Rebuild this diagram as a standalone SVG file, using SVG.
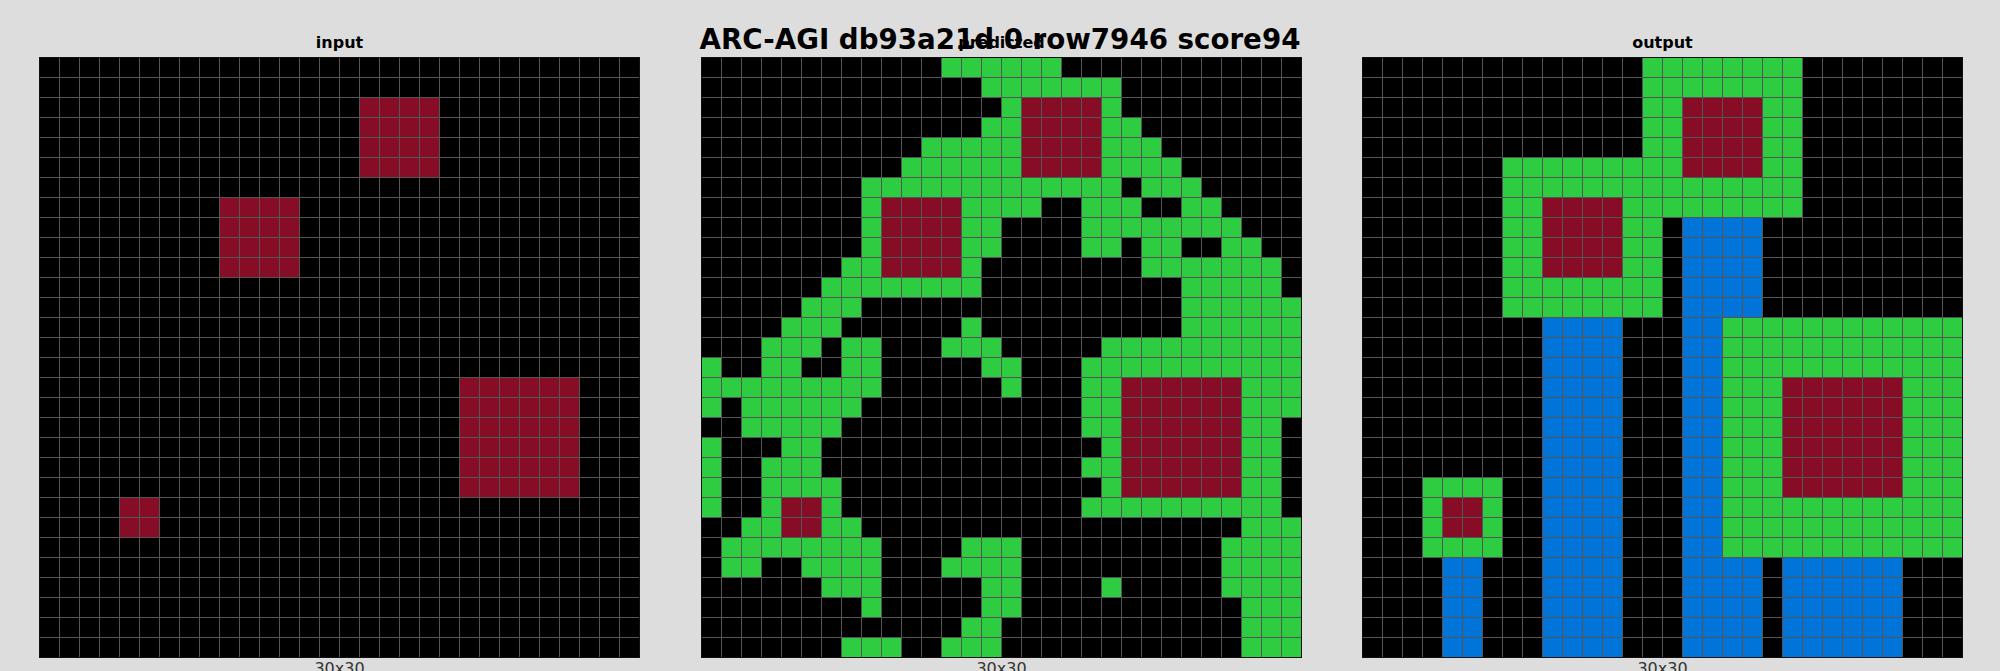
<svg xmlns="http://www.w3.org/2000/svg" xmlns:xlink="http://www.w3.org/1999/xlink" width="2000" height="671" viewBox="0 0 2000 671">
<style>
.bg{fill:#dddddd}
.k{fill:#000000}
.g{fill:#2ECC40}
.m{fill:#870C25}
.b{fill:#0074D9}
.gl{fill:none;stroke:#555555;stroke-width:1}
.bd{fill:none;stroke:#111111;stroke-width:1}
.pt{font-family:"DejaVu Sans","Liberation Sans",sans-serif;font-weight:bold;font-size:16px;fill:#000;text-anchor:middle}
.mt{font-family:"DejaVu Sans","Liberation Sans",sans-serif;font-weight:bold;font-size:27.7px;fill:#000;text-anchor:middle}
.sz{font-family:"DejaVu Sans","Liberation Sans",sans-serif;font-size:16px;fill:#333;text-anchor:middle}
</style>
<defs>
<path id="gridlines" class="gl" d="M0 0H600M0 20H600M0 40H600M0 60H600M0 80H600M0 100H600M0 120H600M0 140H600M0 160H600M0 180H600M0 200H600M0 220H600M0 240H600M0 260H600M0 280H600M0 300H600M0 320H600M0 340H600M0 360H600M0 380H600M0 400H600M0 420H600M0 440H600M0 460H600M0 480H600M0 500H600M0 520H600M0 540H600M0 560H600M0 580H600M0 600H600M0 0V600M20 0V600M40 0V600M60 0V600M80 0V600M100 0V600M120 0V600M140 0V600M160 0V600M180 0V600M200 0V600M220 0V600M240 0V600M260 0V600M280 0V600M300 0V600M320 0V600M340 0V600M360 0V600M380 0V600M400 0V600M420 0V600M440 0V600M460 0V600M480 0V600M500 0V600M520 0V600M540 0V600M560 0V600M580 0V600M600 0V600"/>
</defs>
<rect class="bg" x="0" y="0" width="2000" height="671"/>

<g id="input-grid" transform="translate(39.5,57.5)">
<rect class="k" x="0" y="0" width="600" height="600"/>
<rect class="m" x="320" y="40" width="80" height="80"/>
<rect class="m" x="180" y="140" width="80" height="80"/>
<rect class="m" x="420" y="320" width="120" height="120"/>
<rect class="m" x="80" y="440" width="40" height="40"/>
<use xlink:href="#gridlines" href="#gridlines"/>
<rect class="bd" x="0" y="0" width="600" height="600"/>
</g>

<g id="predicted-grid" transform="translate(701.5,57.5)">
<rect class="k" x="0" y="0" width="600" height="600"/>
<rect class="g" x="240" y="0" width="120" height="20"/>
<rect class="g" x="280" y="20" width="140" height="20"/>
<rect class="g" x="300" y="40" width="20" height="20"/>
<rect class="g" x="400" y="40" width="20" height="20"/>
<rect class="g" x="280" y="60" width="40" height="20"/>
<rect class="g" x="400" y="60" width="40" height="20"/>
<rect class="g" x="220" y="80" width="100" height="20"/>
<rect class="g" x="400" y="80" width="60" height="20"/>
<rect class="g" x="200" y="100" width="120" height="20"/>
<rect class="g" x="400" y="100" width="80" height="20"/>
<rect class="g" x="160" y="120" width="260" height="20"/>
<rect class="g" x="440" y="120" width="60" height="20"/>
<rect class="g" x="160" y="140" width="20" height="20"/>
<rect class="g" x="260" y="140" width="80" height="20"/>
<rect class="g" x="380" y="140" width="60" height="20"/>
<rect class="g" x="480" y="140" width="40" height="20"/>
<rect class="g" x="160" y="160" width="20" height="20"/>
<rect class="g" x="260" y="160" width="40" height="20"/>
<rect class="g" x="380" y="160" width="160" height="20"/>
<rect class="g" x="160" y="180" width="20" height="20"/>
<rect class="g" x="260" y="180" width="40" height="20"/>
<rect class="g" x="380" y="180" width="40" height="20"/>
<rect class="g" x="440" y="180" width="40" height="20"/>
<rect class="g" x="520" y="180" width="40" height="20"/>
<rect class="g" x="140" y="200" width="40" height="20"/>
<rect class="g" x="260" y="200" width="20" height="20"/>
<rect class="g" x="440" y="200" width="140" height="20"/>
<rect class="g" x="120" y="220" width="160" height="20"/>
<rect class="g" x="480" y="220" width="100" height="20"/>
<rect class="g" x="100" y="240" width="60" height="20"/>
<rect class="g" x="480" y="240" width="120" height="20"/>
<rect class="g" x="80" y="260" width="60" height="20"/>
<rect class="g" x="260" y="260" width="20" height="20"/>
<rect class="g" x="480" y="260" width="120" height="20"/>
<rect class="g" x="60" y="280" width="60" height="20"/>
<rect class="g" x="140" y="280" width="40" height="20"/>
<rect class="g" x="240" y="280" width="60" height="20"/>
<rect class="g" x="400" y="280" width="200" height="20"/>
<rect class="g" x="0" y="300" width="20" height="20"/>
<rect class="g" x="60" y="300" width="40" height="20"/>
<rect class="g" x="140" y="300" width="40" height="20"/>
<rect class="g" x="280" y="300" width="40" height="20"/>
<rect class="g" x="380" y="300" width="220" height="20"/>
<rect class="g" x="0" y="320" width="180" height="20"/>
<rect class="g" x="300" y="320" width="20" height="20"/>
<rect class="g" x="380" y="320" width="40" height="20"/>
<rect class="g" x="540" y="320" width="60" height="20"/>
<rect class="g" x="0" y="340" width="20" height="20"/>
<rect class="g" x="40" y="340" width="120" height="20"/>
<rect class="g" x="380" y="340" width="40" height="20"/>
<rect class="g" x="540" y="340" width="60" height="20"/>
<rect class="g" x="40" y="360" width="100" height="20"/>
<rect class="g" x="380" y="360" width="40" height="20"/>
<rect class="g" x="540" y="360" width="40" height="20"/>
<rect class="g" x="0" y="380" width="20" height="20"/>
<rect class="g" x="80" y="380" width="40" height="20"/>
<rect class="g" x="400" y="380" width="20" height="20"/>
<rect class="g" x="540" y="380" width="40" height="20"/>
<rect class="g" x="0" y="400" width="20" height="20"/>
<rect class="g" x="60" y="400" width="60" height="20"/>
<rect class="g" x="380" y="400" width="40" height="20"/>
<rect class="g" x="540" y="400" width="40" height="20"/>
<rect class="g" x="0" y="420" width="20" height="20"/>
<rect class="g" x="60" y="420" width="80" height="20"/>
<rect class="g" x="400" y="420" width="20" height="20"/>
<rect class="g" x="540" y="420" width="40" height="20"/>
<rect class="g" x="0" y="440" width="20" height="20"/>
<rect class="g" x="60" y="440" width="20" height="20"/>
<rect class="g" x="120" y="440" width="20" height="20"/>
<rect class="g" x="380" y="440" width="200" height="20"/>
<rect class="g" x="40" y="460" width="40" height="20"/>
<rect class="g" x="120" y="460" width="40" height="20"/>
<rect class="g" x="540" y="460" width="60" height="20"/>
<rect class="g" x="20" y="480" width="160" height="20"/>
<rect class="g" x="260" y="480" width="60" height="20"/>
<rect class="g" x="520" y="480" width="80" height="20"/>
<rect class="g" x="20" y="500" width="40" height="20"/>
<rect class="g" x="100" y="500" width="80" height="20"/>
<rect class="g" x="240" y="500" width="80" height="20"/>
<rect class="g" x="520" y="500" width="80" height="20"/>
<rect class="g" x="120" y="520" width="60" height="20"/>
<rect class="g" x="280" y="520" width="40" height="20"/>
<rect class="g" x="400" y="520" width="20" height="20"/>
<rect class="g" x="520" y="520" width="80" height="20"/>
<rect class="g" x="160" y="540" width="20" height="20"/>
<rect class="g" x="280" y="540" width="40" height="20"/>
<rect class="g" x="540" y="540" width="60" height="20"/>
<rect class="g" x="260" y="560" width="40" height="20"/>
<rect class="g" x="540" y="560" width="60" height="20"/>
<rect class="g" x="140" y="580" width="60" height="20"/>
<rect class="g" x="240" y="580" width="60" height="20"/>
<rect class="g" x="540" y="580" width="60" height="20"/>
<rect class="m" x="320" y="40" width="80" height="80"/>
<rect class="m" x="180" y="140" width="80" height="80"/>
<rect class="m" x="420" y="320" width="120" height="120"/>
<rect class="m" x="80" y="440" width="40" height="40"/>
<use xlink:href="#gridlines" href="#gridlines"/>
<rect class="bd" x="0" y="0" width="600" height="600"/>
</g>

<g id="output-grid" transform="translate(1362.5,57.5)">
<rect class="k" x="0" y="0" width="600" height="600"/>
<rect class="g" x="280" y="0" width="160" height="160"/>
<rect class="g" x="140" y="100" width="160" height="160"/>
<rect class="m" x="320" y="40" width="80" height="80"/>
<rect class="m" x="180" y="140" width="80" height="80"/>
<rect class="b" x="320" y="160" width="80" height="440"/>
<rect class="b" x="180" y="260" width="80" height="340"/>
<rect class="g" x="360" y="260" width="240" height="240"/>
<rect class="m" x="420" y="320" width="120" height="120"/>
<rect class="b" x="420" y="500" width="120" height="100"/>
<rect class="g" x="60" y="420" width="80" height="80"/>
<rect class="m" x="80" y="440" width="40" height="40"/>
<rect class="b" x="80" y="500" width="40" height="100"/>
<use xlink:href="#gridlines" href="#gridlines"/>
<rect class="bd" x="0" y="0" width="600" height="600"/>
</g>

<g id="labels">
<text class="pt" x="339.5" y="48">input</text>
<text class="pt" x="1001.5" y="48">predicted</text>
<text class="pt" x="1662.5" y="48">output</text>
<text class="mt" x="1000" y="48.5">ARC-AGI db93a21d 0 row7946 score94</text>
<text class="sz" x="339.5" y="673.5">30x30</text>
<text class="sz" x="1001.5" y="673.5">30x30</text>
<text class="sz" x="1662.5" y="673.5">30x30</text>
</g>
</svg>
